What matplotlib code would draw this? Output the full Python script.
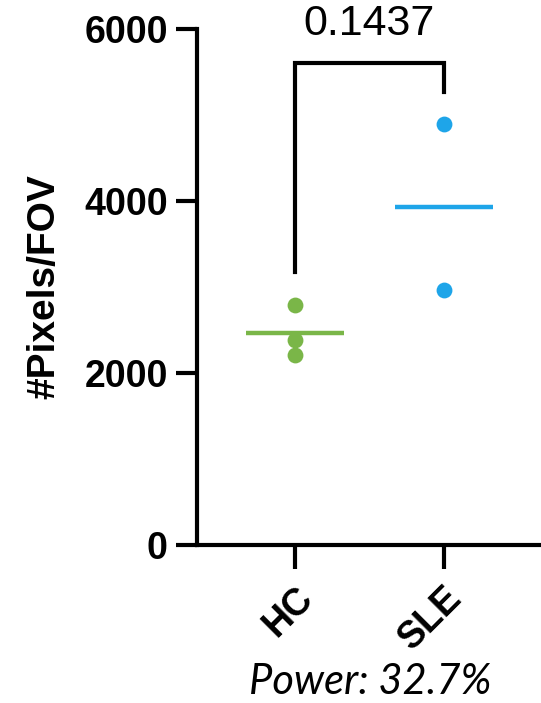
import matplotlib.pyplot as plt
import numpy as np

groups = ['HC', 'SLE']
hc_vals = [2790, 2380, 2210]
sle_vals = [4890, 2970]
colors = ['#7ab648', '#1ea5e9']
p_value = '0.1437'
power_text = 'Power: 32.7%'

plt.rcParams['font.family'] = ['Liberation Sans', 'DejaVu Sans']

fig = plt.figure(figsize=(5.41, 7.03), dpi=100)
ax = fig.add_axes([0.364, 0.2248, 0.636, 0.734])

for i, vals in enumerate([hc_vals, sle_vals]):
    ax.scatter([i] * len(vals), vals, s=130, color=colors[i], zorder=3,
               clip_on=False, linewidths=0)
    m = np.mean(vals)
    ax.plot([i - 0.33, i + 0.33], [m, m], color=colors[i], lw=3.2,
            solid_capstyle='butt', zorder=2)

# significance bracket
ax.plot([0, 0, 1, 1], [3170, 5610, 5610, 5270], color='black', lw=3,
        clip_on=False, solid_joinstyle='miter')
ax.text(0.5, 6060, p_value, ha='center', va='center', fontsize=31)

ax.set_xlim(-0.658, 1.651)
ax.set_ylim(0, 6000)
ax.set_yticks([0, 2000, 4000, 6000])
ax.set_xticks([0, 1])
ax.set_xticklabels(groups, rotation=45, ha='right', rotation_mode='anchor',
                   fontsize=27, fontweight='bold')
for lab in ax.get_yticklabels():
    lab.set_fontsize(27)
    lab.set_fontweight('bold')
ax.tick_params(axis='y', length=15, width=3, pad=6)
ax.tick_params(axis='x', length=17, width=3, pad=8)
ax.spines['top'].set_visible(False)
ax.spines['right'].set_visible(False)
ax.spines['left'].set_linewidth(3)
ax.spines['bottom'].set_linewidth(3)
ax.set_ylabel('#Pixels/FOV', fontsize=28, fontweight='bold', labelpad=16)

fig.text(0.685, 0.003, power_text, ha='center', va='bottom', fontsize=30,
         style='italic', family=['Lato', 'DejaVu Sans'])

plt.savefig('out.png', dpi=100)
